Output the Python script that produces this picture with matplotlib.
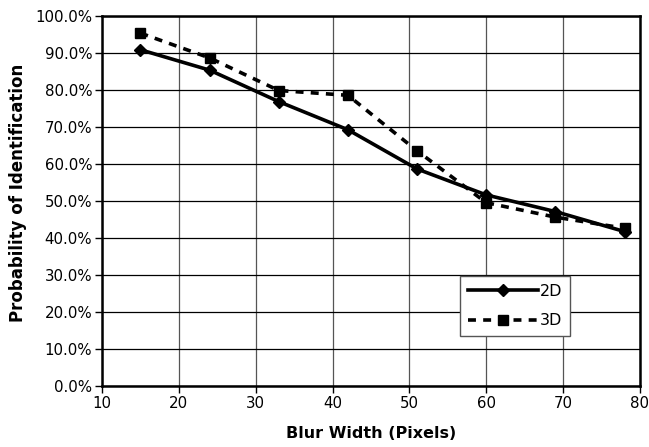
import matplotlib
matplotlib.use("Agg")
import matplotlib.pyplot as plt
from matplotlib.ticker import FuncFormatter

blur_width = [15, 24, 33, 42, 51, 60, 69, 78]
prob_2d = [90.8, 85.3, 76.8, 69.2, 58.6, 51.6, 47.1, 41.7]
prob_3d = [95.3, 88.6, 79.8, 78.5, 63.5, 49.5, 45.6, 42.6]

plt.rcParams['font.family'] = ['DejaVu Sans']

fig = plt.figure(figsize=(6.49, 4.47), dpi=100)
ax = fig.add_axes([102/649, 1-386/447, (640-102)/649, (386-15.7)/447])

ax.plot(blur_width, prob_2d, color='black', lw=2.6, marker='D', ms=6.5, label='2D', zorder=3)
ax.plot(blur_width, prob_3d, color='black', lw=2.6, ls=(0, (2.2, 2.0)), marker='s', ms=7, label='3D', zorder=3)

ax.set_xlim(10, 80)
ax.set_ylim(0, 100)
ax.set_xticks(range(10, 81, 10))
ax.set_yticks(range(0, 101, 10))
ax.yaxis.set_major_formatter(FuncFormatter(lambda v, p: f"{v:.1f}%"))
ax.tick_params(axis='both', labelsize=10.8, length=5, width=1, direction='out', colors='black', pad=2)
ax.grid(True, axis='y', color='black', lw=0.9)
ax.grid(True, axis='x', color='#555555', lw=0.9)
for s in ax.spines.values():
    s.set_linewidth(1.8)
    s.set_color('black')

ax.set_xlabel('Blur Width (Pixels)', fontsize=11.5, fontweight='bold')
ax.set_ylabel('Probability of Identification', fontsize=12, fontweight='bold')
ax.xaxis.set_label_coords(0.5, -(434-386)/370.3)
ax.yaxis.set_label_coords(-(102-18)/538, (386-193)/370.3)
ax.xaxis.label.set_va('center')
ax.yaxis.label.set_va('center')

leg = ax.legend(loc='upper left', bbox_to_anchor=((460-102)/538, 1-(276-15.7)/370.3),
                frameon=True, fancybox=False, edgecolor='#555555', framealpha=1,
                fontsize=11.5, handlelength=4.4, borderpad=0.5, labelspacing=0.9, handletextpad=0.1,
                borderaxespad=0)
leg.get_frame().set_linewidth(1.0)

fig.savefig('out.png', dpi=100)
